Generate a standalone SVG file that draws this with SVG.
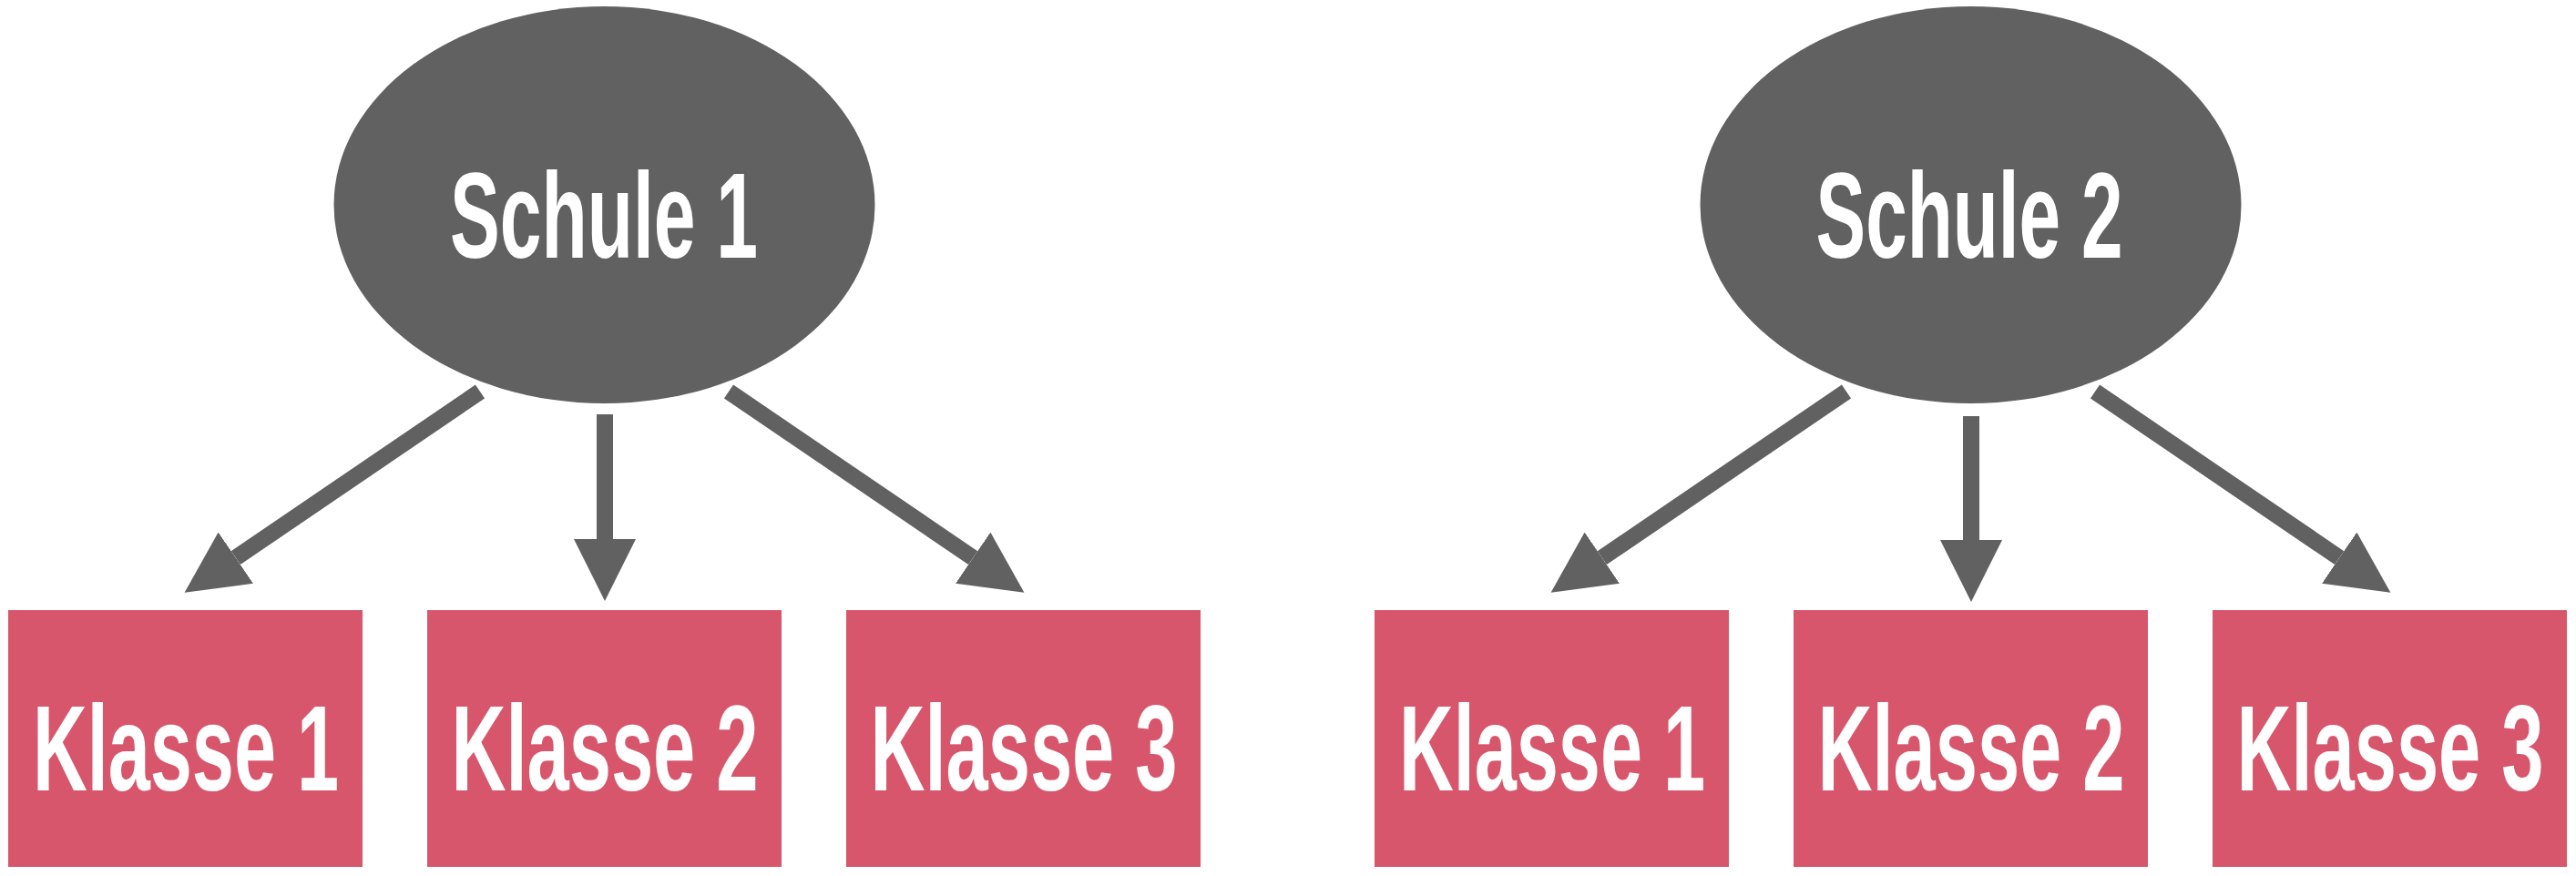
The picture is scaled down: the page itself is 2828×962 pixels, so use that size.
<svg xmlns="http://www.w3.org/2000/svg" width="2828" height="962" viewBox="0 0 2828 962">
<style>
.school{fill:#616161}
.klasse{fill:#d8566b}
.lbl{font-family:"Liberation Sans",Arial,sans-serif;font-weight:bold;font-size:134px;fill:#ffffff;text-anchor:middle}
.conn{stroke:#616161;stroke-width:18;fill:none}
</style>
<defs>
<marker id="ah" markerUnits="userSpaceOnUse" viewBox="0 -34 68 68" markerWidth="68" markerHeight="68" refX="0" refY="0" orient="auto">
<path d="M0,-34 L68,0 L0,34 Z" fill="#616161"/>
</marker>
</defs>
<rect width="2828" height="962" fill="#ffffff"/>
<g id="connectors">
<line class="conn" x1="527" y1="430" x2="258.8" y2="612.6" marker-end="url(#ah)"/>
<line class="conn" x1="664" y1="455" x2="664" y2="592" marker-end="url(#ah)"/>
<line class="conn" x1="800" y1="430" x2="1068.2" y2="612.6" marker-end="url(#ah)"/>
<line class="conn" x1="2027" y1="430" x2="1758.8" y2="612.6" marker-end="url(#ah)"/>
<line class="conn" x1="2164" y1="457" x2="2164" y2="593" marker-end="url(#ah)"/>
<line class="conn" x1="2300" y1="430" x2="2568.2" y2="612.6" marker-end="url(#ah)"/>
</g>
<g id="schule1">
<ellipse class="school" cx="663.5" cy="225" rx="297" ry="218"/>
<text class="lbl" x="663" y="283" textLength="338" lengthAdjust="spacingAndGlyphs">Schule 1</text>
</g>
<g id="schule2">
<ellipse class="school" cx="2163.5" cy="225" rx="297" ry="218"/>
<text class="lbl" x="2162" y="283" textLength="337" lengthAdjust="spacingAndGlyphs">Schule 2</text>
</g>
<g id="s1k1">
<rect class="klasse" x="9" y="670" width="389" height="282"/>
<text class="lbl" x="204" y="868" textLength="336" lengthAdjust="spacingAndGlyphs">Klasse 1</text>
</g>
<g id="s1k2">
<rect class="klasse" x="469" y="670" width="389" height="282"/>
<text class="lbl" x="664" y="868" textLength="337" lengthAdjust="spacingAndGlyphs">Klasse 2</text>
</g>
<g id="s1k3">
<rect class="klasse" x="929" y="670" width="389" height="282"/>
<text class="lbl" x="1124" y="868" textLength="337" lengthAdjust="spacingAndGlyphs">Klasse 3</text>
</g>
<g id="s2k1">
<rect class="klasse" x="1509" y="670" width="389" height="282"/>
<text class="lbl" x="1704" y="868" textLength="336" lengthAdjust="spacingAndGlyphs">Klasse 1</text>
</g>
<g id="s2k2">
<rect class="klasse" x="1969" y="670" width="389" height="282"/>
<text class="lbl" x="2164" y="868" textLength="337" lengthAdjust="spacingAndGlyphs">Klasse 2</text>
</g>
<g id="s2k3">
<rect class="klasse" x="2429" y="670" width="389" height="282"/>
<text class="lbl" x="2624" y="868" textLength="337" lengthAdjust="spacingAndGlyphs">Klasse 3</text>
</g>
</svg>
